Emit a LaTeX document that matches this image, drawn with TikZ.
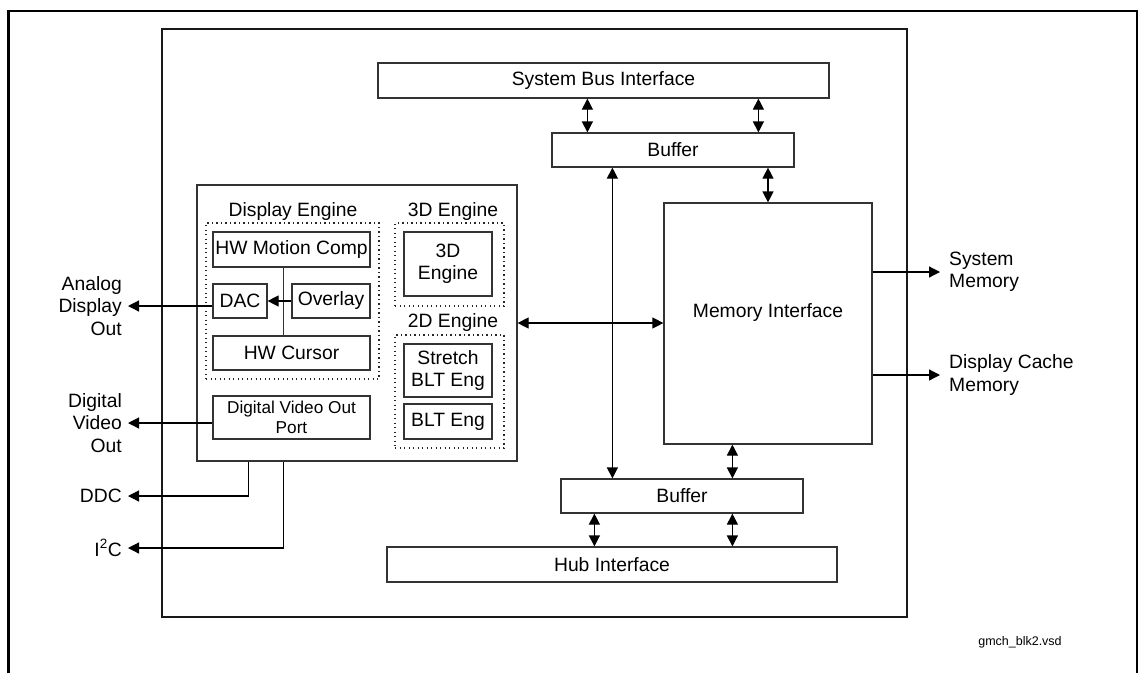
\documentclass[tikz,border=0pt]{standalone}
\usepackage{fontspec}
\setmainfont{Liberation Sans}
\usetikzlibrary{arrows.meta}
\begin{document}
\begin{tikzpicture}[x=1pt,y=-1pt,
  blk/.style={draw=black!80, line width=1.2pt, inner sep=0pt, align=center, font=\fontsize{19.3}{22}\selectfont},
  dotbox/.style={draw=black!85, line width=1.3pt, dash pattern=on 1.3pt off 3.2pt, inner sep=0pt},
  lbl/.style={inner sep=0pt, font=\fontsize{19.3}{22.5}\selectfont},
  arr/.style={draw=black, line width=1.2pt, -{Triangle[length=11pt,width=11pt]}},
  darr/.style={draw=black, line width=1.2pt, {Triangle[length=11pt,width=11pt]}-{Triangle[length=11pt,width=11pt]}},
  ln/.style={draw=black!80, line width=1.2pt}]
\useasboundingbox (0,0) rectangle (1140,673);
\fill[white] (0,0) rectangle (1140,673);
% outer frame
\draw[line width=2.6pt] (8.5,673) -- (8.5,10.8) -- (1137,10.8) -- (1137,673);
% inner frame
\draw[line width=1.5pt, draw=black!90] (162,29) rectangle (907,617);
% top / bottom blocks
\node[blk, minimum width=451pt, minimum height=35pt] (sbi) at (603.5,80.5) {System Bus Interface};
\node[blk, minimum width=242pt, minimum height=34pt] (buf1) at (673,150) {Buffer};
\node[blk, minimum width=208pt, minimum height=241pt] (mem) at (768,323.5) {};
\node[lbl] (memtxt) at (768,313) {Memory Interface};
\node[blk, minimum width=242pt, minimum height=34pt] (buf2) at (682,496) {Buffer};
\node[blk, minimum width=450pt, minimum height=35pt] (hub) at (612,564.5) {Hub Interface};
% graphics block
\node[blk, minimum width=320pt, minimum height=276pt] (gfx) at (357,323) {};
\node[lbl] (detitle) at (293,212) {Display Engine};
\node[lbl] (d3title) at (453,212) {3D Engine};
\node[lbl] (d2title) at (453,323) {2D Engine};
\node[dotbox, minimum width=173pt, minimum height=156pt] (dedot) at (292.5,301) {};
\node[dotbox, minimum width=109pt, minimum height=83pt] (d3dot) at (449.5,264.5) {};
\node[dotbox, minimum width=109pt, minimum height=113pt] (d2dot) at (449.5,391.5) {};
\node[blk, minimum width=157pt, minimum height=35pt] (hwmc) at (291.5,249.5) {HW Motion Comp};
\node[blk, minimum width=54pt, minimum height=34pt] (dac) at (240,301) {DAC};
\node[blk, minimum width=78pt, minimum height=34pt] (ovl) at (331,301) {Overlay};
\node[blk, minimum width=157pt, minimum height=34pt] (hwc) at (291.5,353) {HW Cursor};
\node[blk, minimum width=157pt, minimum height=43pt, font=\fontsize{17.2}{20}\selectfont] (dvo) at (291.5,417.5) {Digital Video Out\\Port};
\node[blk, minimum width=88pt, minimum height=64pt] (eng3d) at (448,264) {3D\\Engine};
\node[blk, minimum width=88pt, minimum height=53pt] (sblt) at (448,370.5) {Stretch\\BLT Eng};
\node[blk, minimum width=88pt, minimum height=35pt] (blt) at (448,421.5) {BLT Eng};
% internal display engine links
\draw[ln] ([xshift=71pt]hwmc.south west) -- ([xshift=71pt]hwmc.south west |- hwc.north);
\draw[arr] (ovl.west) -- (dac.east);
% left outputs
\node[lbl, anchor=east, align=right] (ado) at (122,306) {Analog\\Display\\Out};
\node[lbl, anchor=east, align=right] (dvout) at (122,423) {Digital\\Video\\Out};
\node[lbl, anchor=east] (ddc) at (122,496) {DDC};
\node[lbl, anchor=east] (i2c) at (122,548) {I\textsuperscript{2}C};
\draw[arr] (dac.west |- ado.east) -- ([xshift=6pt]ado.east);
\draw[arr] (dvo.west |- dvout.east) -- ([xshift=6pt]dvout.east);
\draw[arr] ([xshift=52pt]gfx.south west) |- ([xshift=6pt]ddc.east);
\draw[arr] ([xshift=87pt]gfx.south west) |- ([xshift=6pt]i2c.east);
% right outputs
\node[lbl, anchor=west, align=left] (sysmem) at (949,272) {System\\Memory};
\node[lbl, anchor=west, align=left] (dcm) at (949,375) {Display Cache\\Memory};
\draw[arr] (mem.east |- sysmem.west) -- ([xshift=-9pt]sysmem.west);
\draw[arr] (mem.east |- dcm.west) -- ([xshift=-9pt]dcm.west);
% bus arrows
\draw[darr] ([xshift=36pt]buf1.north west) -- ([xshift=36pt]buf1.north west |- sbi.south);
\draw[darr] ([xshift=207pt]buf1.north west) -- ([xshift=207pt]buf1.north west |- sbi.south);
\draw[darr] (mem.north) -- (mem.north |- buf1.south);
\draw[darr] ([xshift=61pt]buf1.south west) -- ([xshift=61pt]buf1.south west |- buf2.north);
\draw[darr] ([xshift=69pt]mem.south west) -- ([xshift=69pt]mem.south west |- buf2.north);
\draw[darr] ([xshift=34pt]buf2.south west) -- ([xshift=34pt]buf2.south west |- hub.north);
\draw[darr] ([xshift=172pt]buf2.south west) -- ([xshift=172pt]buf2.south west |- hub.north);
\draw[darr] (gfx.east) -- (gfx.east -| mem.west);
% file name
\node[inner sep=0pt, font=\fontsize{12.5}{14}\selectfont] (fname) at (1020,642) {gmch\_blk2.vsd};
\end{tikzpicture}
\end{document}
